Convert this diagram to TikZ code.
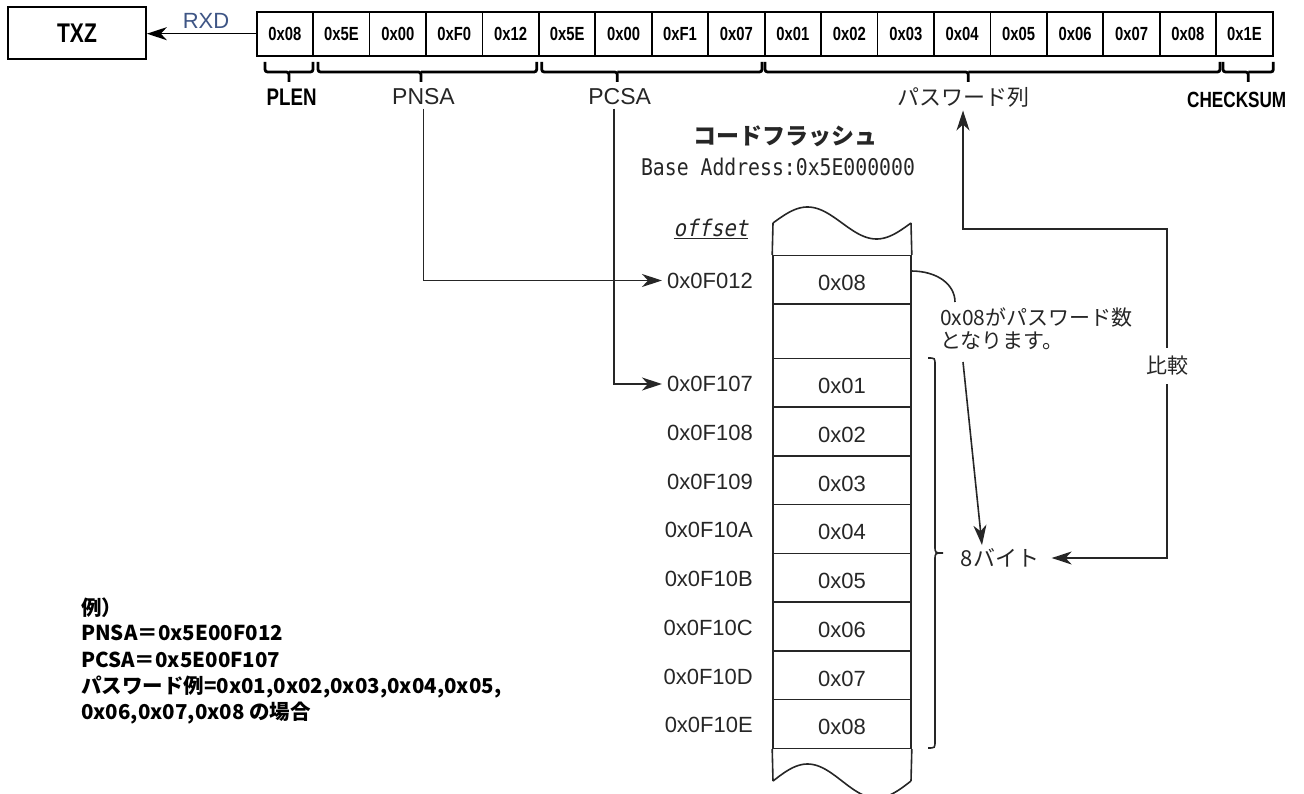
\documentclass[tikz,border=0pt]{standalone}
\usepackage{fontspec}
\usetikzlibrary{arrows.meta}
\setmainfont{Liberation Sans}
\newfontfamily\condf[FakeStretch=0.78]{Liberation Sans}
\newfontfamily\jp{Noto Sans CJK JP}
\newfontfamily\monof[FakeStretch=0.86]{DejaVu Sans Mono}
\newfontfamily\monoit[FakeStretch=0.9,FakeSlant=0.2]{DejaVu Sans Mono}
\definecolor{ink}{HTML}{262626}
\definecolor{rxd}{HTML}{3E5585}
\newcommand{\fsz}[1]{\fontsize{#1}{#1}\selectfont}
\begin{document}
\begin{tikzpicture}[x=1pt,y=-1pt,
  cell/.style={draw=black, line width=1.8pt, minimum width=56.44pt, minimum height=44pt, inner sep=0pt, font=\condf\bfseries\fsz{19}},
  mrow/.style={draw=ink, line width=1.6pt, minimum width=138pt, inner sep=0pt, text height=22pt, text depth=0pt, font=\fsz{22}, text=ink},
  addr/.style={anchor=east, inner sep=5pt, font=\fsz{22}, text=ink},
  lbl/.style={font=\fsz{23}, text=ink},
  cbold/.style={font=\condf\bfseries\fsz{#1}, text=black},
  brk/.style={line width=2.8pt, rounded corners=2.5pt},
  ln/.style={draw=ink, line width=1.6pt},
  tip/.tip={Stealth[length=20pt,width=13pt,inset=6pt]},
  arr/.style={draw=ink, line width=1.6pt, -tip},
  arrb/.style={draw=ink, line width=1.6pt, tip-tip},
  jpt/.style={font=\jp\fsz{#1}, text=ink},
  exl/.style={anchor=west, inner sep=0pt, font=\jp\bfseries\fsz{20.5}, text=black}
]
\useasboundingbox (0,0) rectangle (1304,794);

% ---- TXZ and packet ----
\node[draw=black, line width=1.7pt, minimum width=138pt, minimum height=52pt, cbold=27] (txz) at (77,33) {TXZ};
\foreach \t [count=\i] in {0x08,0x5E,0x00,0xF0,0x12,0x5E,0x00,0xF1,0x07,0x01,0x02,0x03,0x04,0x05,0x06,0x07,0x08,0x1E}
  \node[cell] (c\i) at ({256.7+28.22+(\i-1)*56.44},33.7) {\t};
\draw[arr, draw=black] (c1.west) -- (txz.east |- c1.west);
\node[font=\fsz{22}, text=rxd] (rxd) at (206,21) {RXD};

% ---- braces under packet ----
\foreach \a/\b/\t in {265/313/289, 318/536.7/421, 541.7/762/617.3, 765/1220/968.3, 1223/1273.3/1248.3} {
  \draw[brk] (\a,62) |- (\t,72) -- (\t,82);
  \draw[brk] (\t,72) -| (\b,62);
}
\node[cbold=24] (plen) at (291.7,97) {PLEN};
\node[lbl] (pnsa) at (423.5,97) {PNSA};
\node[lbl] (pcsa) at (619.7,97) {PCSA};
\node[jpt=22] (pw) at (963,97) {パスワード列};
\node[cbold=22] (cks) at (1236.7,100) {CHECKSUM};

% ---- code flash title ----
\node[font=\jp\bfseries\fsz{23}, text=ink] (cf) at (785,136) {コードフラッシュ};
\node[font=\monof\fsz{23}, text=ink] (ba) at (778,167) {Base Address:0x5E000000};
\node[font=\monoit\fsz{23}, text=ink] (off) at (711,229) {\underline{offset}};

% ---- memory column ----
\node[mrow, minimum height=48.6pt] (m0) at (842,280) {0x08};
\node[mrow, minimum height=54pt] (me) at (842,331.3) {};
\foreach \v [count=\k] in {0x01,0x02,0x03,0x04,0x05,0x06,0x07,0x08}
  \node[mrow, minimum height=48.75pt] (m\k) at (842,{382.7+(\k-1)*48.75}) {\v};
\draw[ln] plot[domain=0:1, samples=60] ({773+138*\x},{223-16*sin(360*\x)});
\draw[ln] (773,223) -- (m0.north west);
\draw[ln] (911,223) -- (m0.north east);
\draw[ln] (m8.south west) -- (773,781);
\draw[ln] (m8.south east) -- (911,781);
\draw[ln] plot[domain=0:1, samples=60] ({773+138*\x},{781-17*sin(360*\x)});

% ---- addresses ----
\node[addr] (a0) at (758,280.5) {0x0F012};
\foreach \s [count=\k] in {0x0F107,0x0F108,0x0F109,0x0F10A,0x0F10B,0x0F10C,0x0F10D,0x0F10E}
  \node[addr] (a\k) at (758,{384+(\k-1)*48.75}) {\s};

% ---- pointers ----
\draw[arr] (pnsa.south) |- (a0.west);
\draw[arr] ([xshift=-6pt]pcsa.south) |- (a1.west);

% ---- 8-byte brace ----
\draw[ln] (928,358) .. controls (935,358) .. (935,365) -- (935,546)
  .. controls (935,553) .. (943,553) .. controls (935,553) .. (935,560)
  -- (935,741) .. controls (935,748) .. (928,748);

% ---- notes ----
\node[font=\jp\fontsize{21}{23}\selectfont, text=ink, align=left, anchor=north west, inner sep=0pt] (note) at (940,308) {0x08がパスワード数\\となります。};
\node[jpt=22] (byte) at (1000,558) {8バイト};
\coordinate (ls) at (911,271);
\coordinate (le) at (955,302);
\draw[ln] (ls) .. controls (938,271) and (955,285) .. (le);
\coordinate (ns) at (963,362);
\draw[arr] (ns) -- ([xshift=-18pt]byte.north);
\coordinate (cc) at (1166.7,229.3);
\draw[arrb, shorten <=9pt] (byte.east) -| (cc) -| (pw.south);
\node[jpt=21, fill=white, inner xsep=1pt, inner ysep=8pt] (cmp) at (1167,366) {比較};

% ---- example text ----
\node[exl] (ex1) at (81,608) {例）};
\node[exl] (ex2) at (81,633) {PNSA＝0x5E00F012};
\node[exl] (ex3) at (81,660) {PCSA＝0x5E00F107};
\node[exl] (ex4) at (81,687) {パスワード例=0x01,0x02,0x03,0x04,0x05,};
\node[exl] (ex5) at (81,713) {0x06,0x07,0x08 の場合};
\end{tikzpicture}
\end{document}
